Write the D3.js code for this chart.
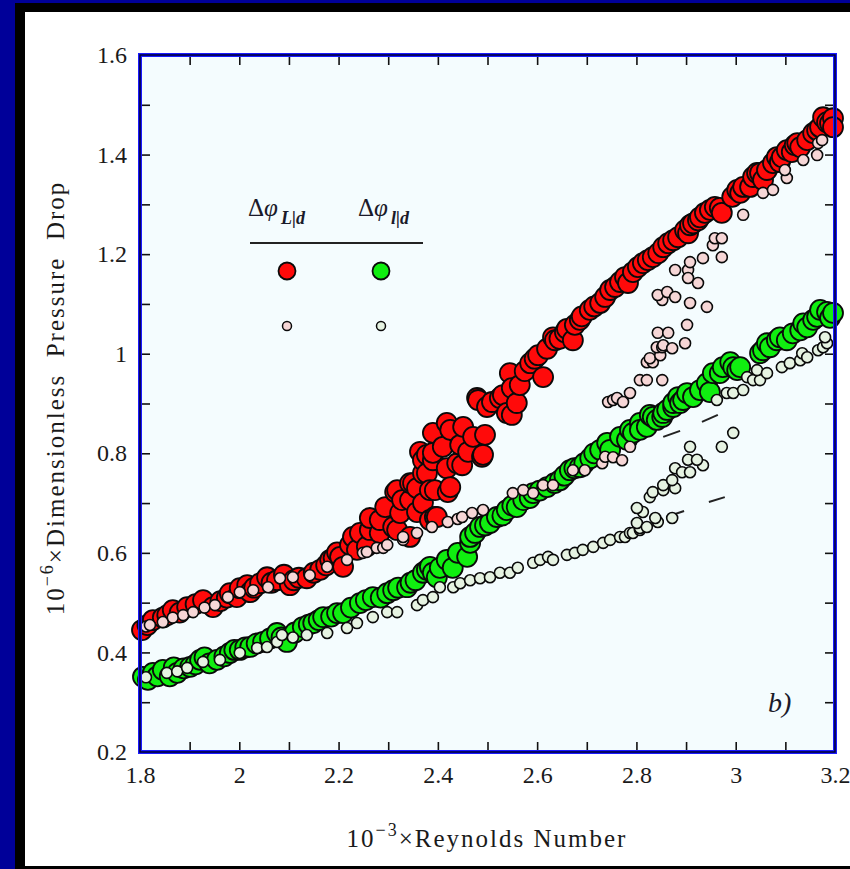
<!DOCTYPE html>
<html>
<head>
<meta charset="utf-8">
<script src="https://cdn.jsdelivr.net/npm/d3@7/dist/d3.min.js"></script>
<style>
  html, body { margin: 0; padding: 0; background: #000099; }
  svg { display: block; }
  text { font-family: "Liberation Serif", "Times New Roman", serif; }
</style>
</head>
<body>
<svg id="chart" width="850" height="869"></svg>
<script>
// Reynolds number (x 10^-3) and dimensionless pressure drop (x 10^-6)
// Large markers: Δφ measured over L/d ; small markers: Δφ over l/d
const redLarge = [
  [1.804,0.445],[1.815,0.455],[1.826,0.465],[1.846,0.470],[1.855,0.475],[1.866,0.485],[1.880,0.480],
  [1.895,0.491],[1.912,0.497],[1.927,0.505],[1.947,0.491],[1.962,0.503],[1.975,0.510],[1.981,0.519],
  [1.995,0.511],[2.001,0.529],[2.016,0.535],[2.022,0.521],[2.030,0.530],[2.042,0.539],[2.056,0.551],
  [2.065,0.540],[2.076,0.545],[2.090,0.556],[2.102,0.535],[2.110,0.545],[2.120,0.550],[2.136,0.549],
  [2.150,0.560],[2.163,0.566],[2.175,0.575],[2.183,0.586],[2.190,0.590],[2.197,0.601],[2.203,0.592],
  [2.209,0.572],[2.223,0.616],[2.229,0.632],[2.237,0.606],[2.243,0.640],[2.257,0.613],[2.263,0.646],
  [2.263,0.670],[2.283,0.640],[2.283,0.666],[2.294,0.692],[2.310,0.652],[2.314,0.722],[2.318,0.646],
  [2.318,0.726],[2.324,0.680],[2.328,0.706],[2.344,0.632],[2.344,0.706],[2.344,0.740],[2.350,0.740],
  [2.358,0.682],[2.358,0.730],[2.364,0.803],[2.370,0.700],[2.370,0.760],[2.370,0.786],[2.378,0.797],
  [2.378,0.760],[2.384,0.666],[2.384,0.726],[2.390,0.786],[2.390,0.801],[2.390,0.841],[2.394,0.672],
  [2.394,0.726],[2.398,0.672],[2.410,0.813],[2.418,0.861],[2.418,0.770],[2.420,0.722],[2.425,0.847],
  [2.425,0.732],[2.439,0.780],[2.445,0.817],[2.449,0.776],[2.451,0.853],[2.461,0.803],[2.471,0.833],
  [2.479,0.911],[2.481,0.907],[2.489,0.793],[2.491,0.797],[2.495,0.837],[2.499,0.893],[2.509,0.903],
  [2.525,0.911],[2.531,0.917],[2.539,0.881],[2.545,0.961],[2.549,0.931],[2.549,0.877],[2.559,0.901],
  [2.565,0.937],[2.575,0.965],[2.586,0.981],[2.595,0.990],[2.602,0.997],[2.612,0.953],[2.620,1.010],
  [2.632,1.033],[2.636,1.027],[2.645,1.030],[2.656,1.043],[2.660,1.050],[2.672,1.027],[2.676,1.058],
  [2.686,1.068],[2.690,1.075],[2.706,1.088],[2.715,1.095],[2.727,1.102],[2.737,1.114],[2.747,1.128],
  [2.757,1.134],[2.767,1.144],[2.777,1.154],[2.783,1.142],[2.793,1.164],[2.803,1.174],[2.813,1.182],
  [2.823,1.188],[2.833,1.194],[2.844,1.202],[2.854,1.214],[2.864,1.222],[2.874,1.228],[2.884,1.234],
  [2.898,1.248],[2.904,1.242],[2.908,1.258],[2.914,1.262],[2.924,1.268],[2.928,1.274],[2.938,1.283],
  [2.948,1.289],[2.958,1.295],[2.968,1.293],[2.972,1.283],[2.993,1.315],[3.003,1.329],[3.009,1.323],
  [3.015,1.335],[3.029,1.335],[3.035,1.355],[3.043,1.363],[3.049,1.363],[3.055,1.349],[3.063,1.369],
  [3.075,1.383],[3.083,1.395],[3.089,1.385],[3.093,1.395],[3.103,1.409],[3.113,1.405],[3.119,1.419],
  [3.124,1.423],[3.130,1.415],[3.144,1.429],[3.156,1.443],[3.164,1.449],[3.170,1.455],[3.176,1.475],
  [3.184,1.465],[3.190,1.463],[3.196,1.473],[3.196,1.455]
];

const pinkSmall = [
  [1.812,0.452],[1.820,0.455],[1.846,0.461],[1.866,0.470],[1.887,0.475],[1.907,0.481],[1.930,0.490],
  [1.951,0.495],[1.977,0.511],[2.001,0.521],[2.028,0.525],[2.058,0.531],[2.082,0.549],[2.108,0.551],
  [2.142,0.555],[2.177,0.572],[2.217,0.586],[2.249,0.600],[2.257,0.602],[2.277,0.610],[2.290,0.610],
  [2.298,0.616],[2.330,0.626],[2.330,0.632],[2.358,0.640],[2.388,0.652],[2.420,0.662],[2.440,0.668],
  [2.449,0.672],[2.469,0.680],[2.491,0.686],
  [2.551,0.720],[2.572,0.726],[2.592,0.720],[2.612,0.736],[2.632,0.736],[2.672,0.766],[2.696,0.766],
  [2.731,0.780],[2.737,0.793],[2.753,0.792],[2.771,0.786],[2.787,0.813],
  [2.743,0.903],[2.753,0.907],[2.761,0.911],[2.773,0.903],[2.787,0.921],[2.807,0.947],[2.821,0.947],
  [2.852,0.947],[2.821,0.983],[2.833,0.983],[2.827,0.991],[2.848,0.997],[2.841,1.013],[2.852,1.013],
  [2.854,1.017],[2.872,1.011],[2.898,1.021],[2.843,1.042],[2.864,1.042],[2.902,1.058],[2.852,1.108],
  [2.843,1.118],[2.862,1.124],[2.878,1.114],[2.908,1.102],[2.942,1.094],[2.878,1.168],[2.904,1.168],
  [2.908,1.184],[2.904,1.152],[2.924,1.142],[2.934,1.192],[2.954,1.218],[2.958,1.232],[2.972,1.232],
  [2.972,1.194],[3.015,1.279],[3.055,1.323],[3.075,1.329],[3.103,1.353],[3.099,1.369],[3.136,1.389],
  [3.164,1.399],[3.166,1.423],[3.174,1.429]
];

const greenLarge = [
  [1.806,0.351],[1.816,0.345],[1.826,0.359],[1.835,0.352],[1.846,0.365],[1.860,0.352],[1.868,0.370],
  [1.875,0.359],[1.888,0.368],[1.901,0.371],[1.912,0.376],[1.921,0.385],[1.930,0.390],[1.940,0.378],
  [1.955,0.385],[1.970,0.392],[1.981,0.399],[1.990,0.405],[2.001,0.405],[2.012,0.410],[2.022,0.411],
  [2.035,0.418],[2.048,0.421],[2.062,0.428],[2.076,0.439],[2.085,0.430],[2.096,0.421],[2.112,0.440],
  [2.128,0.451],[2.140,0.456],[2.149,0.459],[2.160,0.465],[2.169,0.471],[2.185,0.472],[2.197,0.479],
  [2.209,0.479],[2.225,0.490],[2.243,0.499],[2.255,0.505],[2.269,0.511],[2.285,0.510],[2.298,0.519],
  [2.310,0.525],[2.320,0.530],[2.338,0.531],[2.345,0.540],[2.355,0.545],[2.370,0.560],[2.378,0.566],
  [2.384,0.572],[2.390,0.560],[2.398,0.551],[2.404,0.570],[2.418,0.586],[2.430,0.570],[2.440,0.600],
  [2.459,0.592],[2.465,0.620],[2.465,0.632],[2.475,0.640],[2.485,0.652],[2.495,0.655],[2.505,0.660],
  [2.519,0.672],[2.530,0.675],[2.539,0.686],[2.550,0.695],[2.559,0.692],[2.572,0.706],[2.585,0.710],
  [2.592,0.720],[2.605,0.725],[2.620,0.732],[2.635,0.740],[2.646,0.746],[2.655,0.755],[2.666,0.766],
  [2.675,0.770],[2.686,0.772],[2.695,0.780],[2.707,0.790],[2.715,0.800],[2.727,0.807],[2.741,0.821],
  [2.747,0.807],[2.767,0.833],[2.781,0.827],[2.787,0.847],[2.793,0.841],[2.807,0.861],[2.807,0.847],
  [2.821,0.853],[2.827,0.877],[2.833,0.873],[2.841,0.867],[2.852,0.873],[2.854,0.881],[2.862,0.887],
  [2.874,0.893],[2.874,0.901],[2.884,0.913],[2.888,0.901],[2.894,0.907],[2.902,0.921],[2.914,0.913],
  [2.928,0.927],[2.942,0.941],[2.948,0.923],[2.954,0.961],[2.968,0.961],[2.974,0.973],[2.989,0.983],
  [2.995,0.973],[3.003,0.967],[3.009,0.973],[3.049,1.001],[3.055,1.007],[3.063,1.021],[3.069,1.013],
  [3.083,1.027],[3.089,1.033],[3.103,1.027],[3.115,1.041],[3.130,1.047],[3.136,1.061],[3.144,1.053],
  [3.156,1.068],[3.164,1.074],[3.170,1.088],[3.184,1.084],[3.190,1.072],[3.196,1.082]
];

const paleSmall = [
  [1.812,0.350],[1.854,0.359],[1.875,0.362],[1.895,0.369],[1.927,0.381],[1.961,0.385],[2.001,0.399],
  [2.036,0.409],[2.056,0.411],[2.076,0.421],[2.086,0.435],[2.108,0.430],[2.136,0.435],[2.177,0.439],
  [2.217,0.449],[2.237,0.459],[2.269,0.471],[2.298,0.481],[2.318,0.481],[2.358,0.495],[2.370,0.505],
  [2.390,0.511],[2.404,0.531],[2.431,0.531],[2.445,0.539],[2.465,0.545],[2.485,0.549],[2.505,0.551],
  [2.525,0.560],[2.545,0.560],[2.561,0.570],[2.592,0.580],[2.606,0.586],[2.622,0.592],[2.632,0.586],
  [2.660,0.596],[2.676,0.600],[2.692,0.606],[2.713,0.612],[2.733,0.620],[2.747,0.626],[2.767,0.632],
  [2.777,0.632],[2.787,0.640],[2.793,0.640],[2.807,0.646],[2.807,0.650],[2.801,0.660],[2.821,0.652],
  [2.843,0.662],[2.838,0.670],[2.872,0.670],[2.813,0.682],[2.801,0.690],[2.827,0.712],[2.833,0.722],
  [2.854,0.726],[2.878,0.730],[2.854,0.736],[2.872,0.746],[2.878,0.770],[2.892,0.762],[2.908,0.762],
  [2.934,0.776],[2.904,0.787],[2.922,0.787],[2.908,0.813],[2.972,0.813],[2.995,0.841],
  [2.962,0.907],[2.982,0.921],[2.995,0.921],[3.015,0.927],[3.023,0.953],[3.035,0.947],[3.049,0.947],
  [3.043,0.967],[3.063,0.961],[3.093,0.973],[3.109,0.981],[3.130,0.987],[3.134,1.001],[3.144,0.993],
  [3.166,1.007],[3.176,1.013],[3.184,1.021],[3.180,1.033]
];

// short pieces of the laminar extrapolation lines (dashed)
const laminarDashes = [
  [[2.854,0.833],[2.888,0.845]],
  [[2.932,0.863],[2.964,0.877]],
  [[2.872,0.676],[2.896,0.684]],
  [[2.946,0.702],[2.978,0.712]]
];

const xTickValues = [1.8,1.9,2.0,2.1,2.2,2.3,2.4,2.5,2.6,2.7,2.8,2.9,3.0,3.1,3.2];
const yTickValues = [0.2,0.3,0.4,0.5,0.6,0.7,0.8,0.9,1.0,1.1,1.2,1.3,1.4,1.5,1.6];
const xTickLabels = {"1.8":"1.8","2":"2","2.2":"2.2","2.4":"2.4","2.6":"2.6","2.8":"2.8","3":"3","3.2":"3.2"};
const yTickLabels = {"0.2":"0.2","0.4":"0.4","0.6":"0.6","0.8":"0.8","1":"1","1.2":"1.2","1.4":"1.4","1.6":"1.6"};

const svg = d3.select("#chart");
const W = 850, H = 869;

// window frame
svg.append("rect").attr("x", 0).attr("y", 0).attr("width", W).attr("height", H).attr("fill", "#000099");
svg.append("rect").attr("x", 15).attr("y", 3).attr("width", W - 15).attr("height", H - 3).attr("fill", "#000000");
svg.append("rect").attr("x", 25).attr("y", 12).attr("width", W - 25).attr("height", 854).attr("fill", "#ffffff");

const plot = { left: 140, right: 835, top: 55, bottom: 752 };
const x = d3.scaleLinear().domain([1.8, 3.2]).range([plot.left, plot.right]);
const y = d3.scaleLinear().domain([0.2, 1.6]).range([plot.bottom, plot.top]);

svg.append("rect")
  .attr("x", plot.left).attr("y", plot.top)
  .attr("width", plot.right - plot.left).attr("height", plot.bottom - plot.top)
  .attr("fill", "#f4fcfe");

const keyOf = v => String(+v.toFixed(1));

// axes: inward ticks on all four sides, labels on bottom and left
const gB = svg.append("g").attr("transform", `translate(0,${plot.bottom})`)
  .call(d3.axisBottom(x).tickValues(xTickValues).tickSize(-10).tickPadding(14)
    .tickFormat(d => xTickLabels[keyOf(d)] || ""));
const gL = svg.append("g").attr("transform", `translate(${plot.left},0)`)
  .call(d3.axisLeft(y).tickValues(yTickValues).tickSize(-10).tickPadding(13)
    .tickFormat(d => yTickLabels[keyOf(d)] || ""));
const gT = svg.append("g").attr("transform", `translate(0,${plot.top})`)
  .call(d3.axisTop(x).tickValues(xTickValues).tickSize(-10).tickFormat(""));
const gR = svg.append("g").attr("transform", `translate(${plot.right},0)`)
  .call(d3.axisRight(y).tickValues(yTickValues).tickSize(-10).tickFormat(""));

[gB, gL, gT, gR].forEach(g => {
  g.select(".domain").remove();
  g.selectAll(".tick line").attr("stroke", "#111").attr("stroke-width", 1.6);
  g.selectAll(".tick text").attr("font-size", 24).attr("fill", "#1a1a1a")
    .attr("font-family", "'Liberation Serif', serif");
});

// data marks
const marks = svg.append("g");
marks.selectAll("line.dash").data(laminarDashes).join("line")
  .attr("class", "dash")
  .attr("x1", d => x(d[0][0])).attr("y1", d => y(d[0][1]))
  .attr("x2", d => x(d[1][0])).attr("y2", d => y(d[1][1]))
  .attr("stroke", "#222").attr("stroke-width", 2);

function drawSeries(data, r, fill, sw) {
  marks.append("g").selectAll("circle").data(data).join("circle")
    .attr("cx", d => x(d[0])).attr("cy", d => y(d[1]))
    .attr("r", r).attr("fill", fill)
    .attr("stroke", "#0a0a0a").attr("stroke-width", sw);
}
drawSeries(redLarge, 10, "#ff0a0a", 1.8);
drawSeries(greenLarge, 10, "#10ee10", 1.8);
drawSeries(pinkSmall, 5.5, "#f6d6d6", 1.6);
drawSeries(paleSmall, 5.5, "#e6f3e2", 1.6);

// plot frame
svg.append("rect")
  .attr("x", plot.left).attr("y", plot.top)
  .attr("width", plot.right - plot.left).attr("height", plot.bottom - plot.top)
  .attr("fill", "none").attr("stroke", "#1a1aff").attr("stroke-width", 4);
svg.append("rect")
  .attr("x", plot.left).attr("y", plot.top)
  .attr("width", plot.right - plot.left).attr("height", plot.bottom - plot.top)
  .attr("fill", "none").attr("stroke", "#000033").attr("stroke-width", 1.5);

// legend
const leg = svg.append("g");
function legendHead(xPos, sub) {
  const t = leg.append("text").attr("x", xPos).attr("y", 216).attr("font-size", 25).attr("fill", "#1a1a2a");
  t.append("tspan").text("Δ");
  t.append("tspan").attr("font-style", "italic").text("φ");
  t.append("tspan").attr("font-style", "italic").attr("font-weight", "bold")
    .attr("font-size", 18).attr("dy", 8).attr("dx", 3).text(sub);
}
legendHead(248, "L|d");
legendHead(358, "l|d");
leg.append("line").attr("x1", 250).attr("x2", 423).attr("y1", 243).attr("y2", 243)
  .attr("stroke", "#222").attr("stroke-width", 2);
leg.append("circle").attr("cx", 287).attr("cy", 271).attr("r", 8.5).attr("fill", "#ff0a0a").attr("stroke", "#0a0a0a").attr("stroke-width", 1.8);
leg.append("circle").attr("cx", 381).attr("cy", 271).attr("r", 8.5).attr("fill", "#10ee10").attr("stroke", "#0a0a0a").attr("stroke-width", 1.8);
leg.append("circle").attr("cx", 287).attr("cy", 326).attr("r", 4.5).attr("fill", "#f6d6d6").attr("stroke", "#0a0a0a").attr("stroke-width", 1.5);
leg.append("circle").attr("cx", 381).attr("cy", 326).attr("r", 4.5).attr("fill", "#e6f3e2").attr("stroke", "#0a0a0a").attr("stroke-width", 1.5);

// panel tag
svg.append("text").attr("x", 768).attr("y", 712).attr("font-size", 28).attr("font-style", "italic")
  .attr("fill", "#1a1a2a").text("b)");

// axis titles
const xt = svg.append("text").attr("x", 487).attr("y", 847).attr("text-anchor", "middle")
  .attr("font-size", 25).attr("letter-spacing", 2).attr("fill", "#1a1a1a");
xt.append("tspan").text("10");
xt.append("tspan").attr("font-size", 18).attr("dy", -11).text("−3");
xt.append("tspan").attr("dy", 11).text("×Reynolds Number");

const yt = svg.append("text").attr("transform", "translate(64,398) rotate(-90)").attr("text-anchor", "middle")
  .attr("font-size", 25).attr("letter-spacing", 2).attr("fill", "#1a1a1a").attr("xml:space", "preserve");
yt.append("tspan").text("10");
yt.append("tspan").attr("font-size", 18).attr("dy", -11).text("−6");
yt.append("tspan").attr("dy", 11).text("×Dimensionless  Pressure  Drop");
</script>
</body>
</html>
